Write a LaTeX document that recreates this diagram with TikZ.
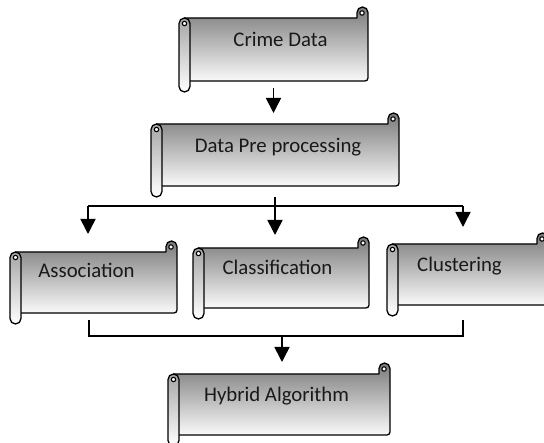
\documentclass[tikz,border=0pt]{standalone}
\usepackage{fontspec}
\setmainfont{Carlito}
\usetikzlibrary{arrows.meta,calc}
\def\sd{11}
\tikzset{
  outl/.style={draw=black, line width=1.3pt, line join=round},
  bbx/.style={draw=none, inner sep=0pt, outer sep=0pt},
  lbl/.style={anchor=base, inner sep=0pt, text=black!90, font=\fontsize{20.8pt}{24pt}\selectfont},
  ln/.style={line width=1.6pt},
  arr/.style={line width=1.6pt, -{Triangle[width=15pt,length=15pt]}}
}
% #1 name, #2 left, #3 top, #4 right, #5 bottom
\newcommand\myscroll[5]{%
  \node[bbx, minimum width={(#4-#2)*1pt}, minimum height={(#5-#3)*1pt}] (#1) at ({(#2+#4)/2},{(#3+#5)/2}) {};
  \path[outl, top color=black!52, bottom color=black!2]
    ({#2+\sd/2},{#3+\sd}) -- ({#4-\sd},{#3+\sd}) -- ({#4-\sd},{#3+\sd/2})
    arc[start angle=180, end angle=0, radius=5.5pt]
    -- ({#4},{#5-\sd-3}) arc[start angle=0, end angle=-90, radius=3pt]
    -- ({#2+\sd/2},{#5-\sd}) -- cycle;
  \draw[line width=1.1pt, fill=white] ({#4-\sd/2-0.5},{#3+\sd/2+0.5}) circle[radius=2.2pt];
  \path[outl, top color=black!35, bottom color=white, rounded corners=5.5pt]
    (#2,{#3+\sd}) rectangle ({#2+\sd},#5);
  \draw[line width=1.1pt, fill=white] ({#2+\sd/2},{#3+\sd+\sd/2}) circle[radius=2.2pt];
}
\begin{document}
\begin{tikzpicture}[x=1pt,y=-1pt]
\useasboundingbox (0,0) rectangle (544,443);
\clip (0,0) rectangle (544,443);
\fill[white] (0,0) rectangle (544,443);

\myscroll{crime}{179}{7}{368}{92}
\myscroll{dpp}{151}{113}{399}{197}
\myscroll{assoc}{10}{241}{177}{324}
\myscroll{class}{193}{237}{369}{319}
\myscroll{clust}{387}{233}{548}{316}
\myscroll{hyb}{168}{363}{390}{446}

\node[lbl] (crimeT) at (280.5,47) {Crime Data};
\node[lbl] (dppT) at (278,153) {Data Pre processing};
\node[lbl] (assocT) at (86.5,278) {Association};
\node[lbl] (classT) at (277.5,275) {Classification};
\node[lbl] (clustT) at (459.5,272) {Clustering};
\node[lbl] (hybT) at (276.5,402) {Hybrid Algorithm};

% Crime Data -> Data Pre processing
\draw[arr] ($(crime.south)+(0,-4)$) -- (crime.south |- dpp.north);

% fork to the three methods
\coordinate (fork) at ($(dpp.south)+(0,9)$);
\coordinate (aTop) at ($(assoc.north)+(-5.5,-7)$);
\coordinate (cTop) at ($(clust.north)+(-4.5,-6)$);
\draw[ln] (fork -| aTop) -- (fork -| cTop);
\draw[arr] (fork -| aTop) -- (aTop);
\draw[arr] (fork -| cTop) -- (cTop);
\draw[arr] (dpp.south) -- ($(dpp.south |- class.north)+(0,-2)$);

% join to Hybrid Algorithm
\coordinate (join) at ($(hyb.north)+(3,-27)$);
\coordinate (aBot) at ($(assoc.south)+(-4.5,-4)$);
\coordinate (cBot) at ($(clust.south)+(-4.5,4)$);
\draw[ln] (aBot) |- (join) -| (cBot);
\draw[arr] (join) -- ($(hyb.north)+(3,-1)$);
\end{tikzpicture}
\end{document}
